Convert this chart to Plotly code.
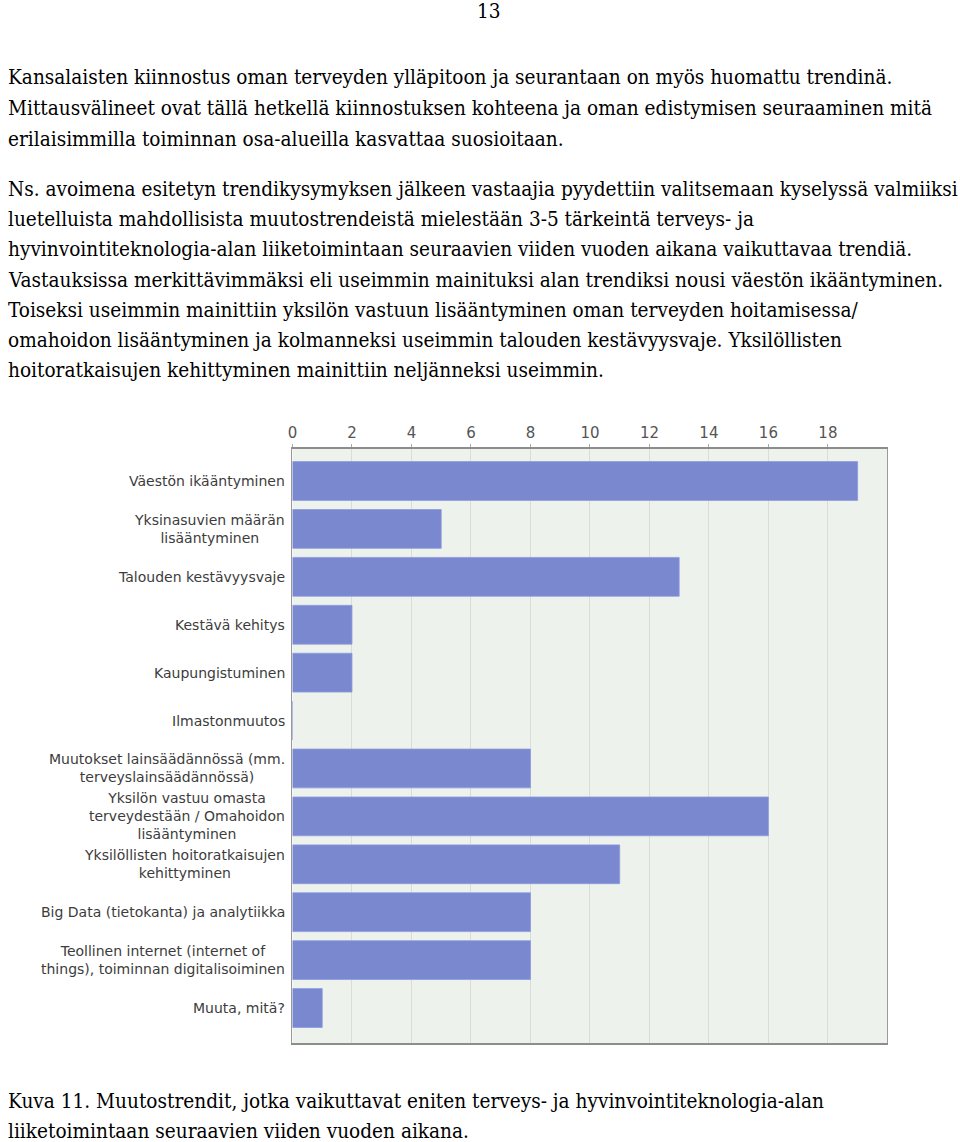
import plotly.graph_objects as go

W, H = 960, 1142

categories = [
    "Väestön ikääntyminen",
    "Yksinasuvien määrän<br>lisääntyminen",
    "Talouden kestävyysvaje",
    "Kestävä kehitys",
    "Kaupungistuminen",
    "Ilmastonmuutos",
    "Muutokset lainsäädännössä (mm.<br>terveyslainsäädännössä)",
    "Yksilön vastuu omasta<br>terveydestään / Omahoidon<br>lisääntyminen",
    "Yksilöllisten hoitoratkaisujen<br>kehittyminen",
    "Big Data (tietokanta) ja analytiikka",
    "Teollinen internet (internet of<br>things), toiminnan digitalisoiminen",
    "Muuta, mitä?",
]
values = [19, 5, 13, 2, 2, 0, 8, 16, 11, 8, 8, 1]
x_ticks = [0, 2, 4, 6, 8, 10, 12, 14, 16, 18]

page_number = "13"
para1 = [
    "Kansalaisten kiinnostus oman terveyden ylläpitoon ja seurantaan on myös huomattu trendinä.",
    "Mittausvälineet ovat tällä hetkellä kiinnostuksen kohteena ja oman edistymisen seuraaminen mitä",
    "erilaisimmilla toiminnan osa-alueilla kasvattaa suosioitaan.",
]
para2 = [
    "Ns. avoimena esitetyn trendikysymyksen jälkeen vastaajia pyydettiin valitsemaan kyselyssä valmiiksi",
    "luetelluista mahdollisista muutostrendeistä mielestään 3-5 tärkeintä terveys- ja",
    "hyvinvointiteknologia-alan liiketoimintaan seuraavien viiden vuoden aikana vaikuttavaa trendiä.",
    "Vastauksissa merkittävimmäksi eli useimmin mainituksi alan trendiksi nousi väestön ikääntyminen.",
    "Toiseksi useimmin mainittiin yksilön vastuun lisääntyminen oman terveyden hoitamisessa/",
    "omahoidon lisääntyminen ja kolmanneksi useimmin talouden kestävyysvaje. Yksilöllisten",
    "hoitoratkaisujen kehittyminen mainittiin neljänneksi useimmin.",
]
caption = [
    "Kuva 11. Muutostrendit, jotka vaikuttavat eniten terveys- ja hyvinvointiteknologia-alan",
    "liiketoimintaan seuraavien viiden vuoden aikana.",
]

def px_x(x):
    return x / W

def px_y(y):
    return 1 - y / H

fig = go.Figure()
fig.add_trace(go.Bar(
    x=values, y=categories, orientation="h",
    width=0.81,
    marker=dict(color="#7988cf", line=dict(color="#8d9be0", width=0.8)),
    hoverinfo="x+y",
))

body_font = dict(family="DejaVu Serif Condensed, DejaVu Serif, serif", size=20.6, color="#000000")
ann = []
ann.append(dict(text=page_number, x=px_x(487), y=px_y(11), xanchor="center", yanchor="middle",
                showarrow=False, font=body_font, xref="paper", yref="paper"))
for i, t in enumerate(para1):
    ann.append(dict(text=t, x=px_x(1), y=px_y(77 + 31 * i), xanchor="left", yanchor="middle",
                    showarrow=False, font=body_font, xref="paper", yref="paper"))
for i, t in enumerate(para2):
    ann.append(dict(text=t, x=px_x(1), y=px_y(189 + 30.2 * i), xanchor="left", yanchor="middle",
                    showarrow=False, font=body_font, xref="paper", yref="paper"))
for i, t in enumerate(caption):
    ann.append(dict(text=t, x=px_x(1), y=px_y(1101 + 30 * i), xanchor="left", yanchor="middle",
                    showarrow=False, font=body_font, xref="paper", yref="paper"))

label_font = dict(family="DejaVu Sans, Verdana, sans-serif", size=14, color="#3c3c3c")
for c in categories:
    ann.append(dict(text=c, x=px_x(283), y=c, xref="paper", yref="y", xanchor="right",
                    yanchor="middle", align="center", showarrow=False, font=label_font))

fig.update_layout(
    width=W, height=H,
    margin=dict(l=0, r=0, t=0, b=0),
    paper_bgcolor="#ffffff",
    plot_bgcolor="#eef2ec",
    showlegend=False,
    annotations=ann,
    bargap=0.19,
    xaxis=dict(
        domain=[px_x(289), px_x(887)],
        range=[0, 20],
        side="top",
        tickvals=x_ticks,
        ticktext=[str(v) for v in x_ticks],
        tickfont=dict(family="DejaVu Sans, Verdana, sans-serif", size=15, color="#555555"),
        showgrid=True, gridcolor="#d9ddd6", gridwidth=1,
        showline=True, linecolor="#8c8c8c", linewidth=1.5, mirror=True,
        ticks="outside", ticklen=3, tickcolor="#aaaaaa",
        zeroline=False, fixedrange=True,
    ),
    yaxis=dict(
        domain=[px_y(1043), px_y(449)],
        range=[11.73, -0.668],
        type="category",
        showticklabels=False,
        showgrid=False,
        showline=True, linecolor="#9a9a9a", linewidth=1, mirror=True,
        ticks="", zeroline=False, fixedrange=True,
    ),
)

fig.write_html(
    "out.html",
    config={"displayModeBar": False},
    post_script="document.body.style.margin='0';document.body.style.overflow='hidden';",
)
